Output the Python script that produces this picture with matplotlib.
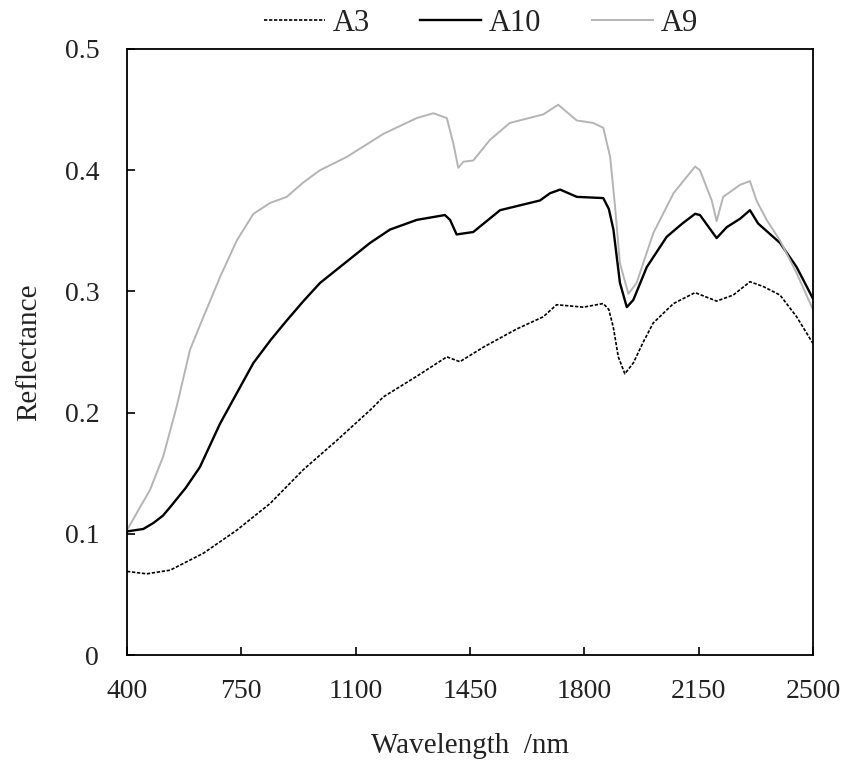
import matplotlib
matplotlib.use("Agg")
import matplotlib.pyplot as plt

plt.rcParams['font.family'] = ['Liberation Serif', 'DejaVu Serif']

# wavelength (nm) / reflectance
wl_a3 = [400, 460, 532, 634, 736, 838, 940, 1042, 1144, 1185, 1287, 1379, 1419, 1491,
         1593, 1674, 1715, 1797, 1858, 1875, 1889, 1904, 1924, 1950, 1980, 2011, 2073,
         2139, 2205, 2256, 2307, 2348, 2399, 2450, 2500]
a3 = [0.069, 0.067, 0.070, 0.084, 0.103, 0.125, 0.153, 0.177, 0.202, 0.213, 0.230, 0.246,
      0.242, 0.254, 0.269, 0.279, 0.289, 0.287, 0.290, 0.285, 0.270, 0.246, 0.232, 0.241,
      0.258, 0.274, 0.290, 0.299, 0.292, 0.297, 0.308, 0.304, 0.297, 0.279, 0.257]

wl_a10 = [400, 450, 481, 510, 532, 580, 623, 685, 740, 787, 840, 889, 940, 991, 1093,
          1144, 1205, 1287, 1373, 1389, 1409, 1460, 1542, 1664, 1695, 1726, 1777, 1858,
          1875, 1889, 1909, 1930, 1950, 1991, 2052, 2100, 2139, 2154, 2205, 2236, 2277,
          2307, 2332, 2399, 2450, 2500]
a10 = [0.102, 0.104, 0.109, 0.115, 0.122, 0.138, 0.155, 0.191, 0.218, 0.241, 0.260, 0.276,
       0.292, 0.307, 0.329, 0.340, 0.351, 0.359, 0.363, 0.359, 0.347, 0.349, 0.367, 0.375,
       0.381, 0.384, 0.378, 0.377, 0.368, 0.351, 0.307, 0.287, 0.293, 0.320, 0.345, 0.356,
       0.364, 0.363, 0.344, 0.353, 0.360, 0.367, 0.356, 0.340, 0.320, 0.294]

wl_a9 = [400, 440, 470, 511, 552, 593, 634, 685, 736, 787, 838, 889, 940, 991, 1073, 1185,
         1287, 1338, 1379, 1399, 1414, 1430, 1460, 1511, 1572, 1674, 1720, 1777, 1827,
         1858, 1879, 1894, 1909, 1935, 1960, 2011, 2073, 2139, 2154, 2190, 2205, 2225,
         2246, 2277, 2307, 2327, 2358, 2399, 2450, 2500]
a9 = [0.103, 0.122, 0.136, 0.164, 0.205, 0.252, 0.279, 0.312, 0.342, 0.364, 0.373, 0.378,
      0.390, 0.400, 0.411, 0.430, 0.443, 0.447, 0.443, 0.422, 0.402, 0.407, 0.408, 0.425,
      0.439, 0.446, 0.454, 0.441, 0.439, 0.435, 0.411, 0.370, 0.323, 0.298, 0.307, 0.348,
      0.381, 0.403, 0.400, 0.375, 0.358, 0.378, 0.382, 0.388, 0.391, 0.375, 0.359, 0.342,
      0.315, 0.285]

xticks = [400, 750, 1100, 1450, 1800, 2150, 2500]
yticks = [0, 0.1, 0.2, 0.3, 0.4, 0.5]
ytick_labels = ['0', '0.1', '0.2', '0.3', '0.4', '0.5']

fig = plt.figure(figsize=(8.49, 7.63), dpi=100)
ax = fig.add_axes([0.1496, 0.1415, 0.808, 0.7943])

ax.plot(wl_a3, a3, color='black', lw=1.2, linestyle=(0, (2, 1)), label='A3')
ax.plot(wl_a10, a10, color='black', lw=1.7, label='A10')
ax.plot(wl_a9, a9, color='#b4b4b4', lw=1.4, label='A9')

ax.set_xlim(400, 2500)
ax.set_ylim(0, 0.5)
ax.set_xticks(xticks)
ax.set_yticks(yticks)
ax.set_yticklabels(ytick_labels)
ax.tick_params(direction='in', length=6, width=1.2, labelsize=20,
               top=False, right=False, labelcolor='#222222')
ax.tick_params(axis='x', pad=17)
ax.tick_params(axis='y', pad=20)
for s in ax.spines.values():
    s.set_linewidth(1.3)

ax.set_xlabel('Wavelength  /nm', fontsize=21, labelpad=21, color='#222222')
ax.set_ylabel('Reflectance', fontsize=21, labelpad=16, color='#222222')

fig.legend(loc='center', bbox_to_anchor=(0.566, 0.969), ncol=3, frameon=False,
           fontsize=22, handlelength=2.0, columnspacing=1.65, handletextpad=0.25,
           borderpad=0, labelcolor='#222222')

fig.savefig('out.png', dpi=100)
